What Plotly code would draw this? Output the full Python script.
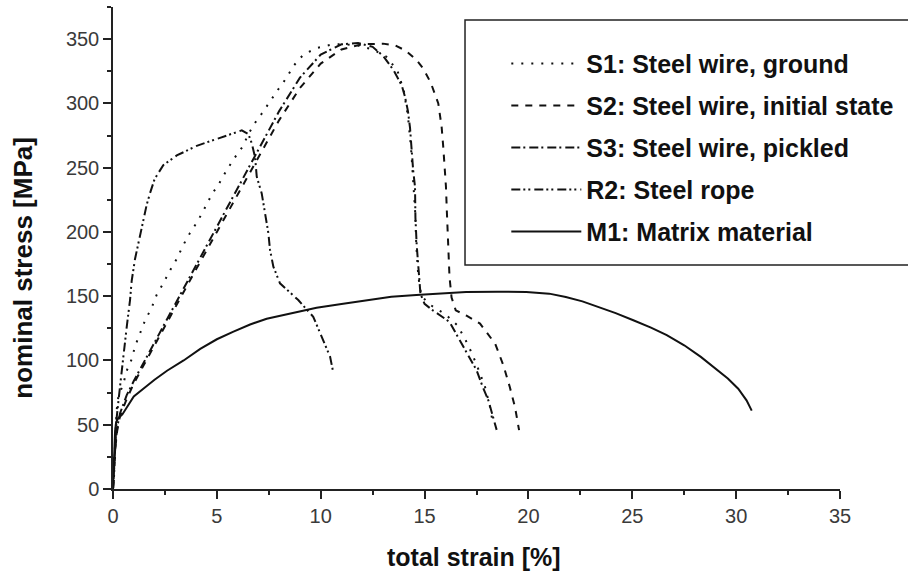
import plotly.graph_objects as go

# ---- data ----
S1_name = "S1: Steel wire, ground"
S1_x = [0, 0.05, 0.1, 0.18, 0.26, 0.5, 0.66, 0.9, 1.06, 1.3, 1.54, 1.86, 2.1, 2.42, 2.74, 3.07, 3.39, 3.7, 4.1,
        4.43, 4.75, 5.12, 5.47, 5.87, 6.27, 6.51, 6.92, 7.16, 7.56, 7.96, 8.36, 8.68, 9.17, 9.8, 10.6, 11.1,
        11.8, 12.5, 13.2, 13.7, 14.0, 14.2, 14.35, 14.45, 14.55, 14.6, 14.7, 14.85, 15.3, 16.0, 16.6, 17.1,
        17.5, 17.9, 18.15, 18.3]
S1_y = [0, 15, 35, 62, 72, 82, 92, 101, 111, 121, 131, 141, 151, 160, 170, 179, 190, 199, 209,
        219, 229, 238, 248, 258, 267, 276, 287, 292, 302, 311, 320, 329, 338, 343, 346, 346,
        345, 342, 336, 325, 310, 290, 265, 240, 215, 190, 165, 150, 143, 136, 127, 112,
        97, 80, 64, 50]

S2_name = "S2: Steel wire, initial state"
S2_x = [0, 0.05, 0.1, 0.2, 0.34, 0.66, 1.0, 1.5, 2.0, 3.0, 4.0, 5.0, 6.0, 7.0, 8.0, 9.0, 10.0, 11.0, 12.0,
        13.0, 13.6, 14.1, 14.6, 14.94, 15.3, 15.66, 15.82, 15.9, 15.98, 16.03, 16.07, 16.15, 16.2, 16.3,
        16.5, 17.0, 17.67, 18.4, 18.8, 19.1, 19.35, 19.55]
S2_y = [0, 15, 30, 45, 57, 70, 82, 97, 112, 141, 171, 200, 229, 258, 287, 312, 331, 342, 346,
        346.5, 345, 341, 334, 327, 316, 300, 282, 266, 250, 235, 217, 186, 165, 149,
        139, 135, 128.7, 113, 96, 79.5, 64, 45.8]

S3_name = "S3: Steel wire, pickled"
S3_x = [0, 0.05, 0.1, 0.2, 0.34, 0.66, 1.0, 2.0, 3.0, 4.0, 5.0, 6.0, 7.0, 8.0, 9.0, 10.0, 11.0, 11.8,
        12.5, 13.0, 13.5, 13.9, 14.06, 14.2, 14.3, 14.38, 14.45, 14.54, 14.56, 14.62, 14.72, 14.8, 15.0,
        15.4, 16.2, 16.7, 17.0, 17.5, 17.8, 18.07, 18.47]
S3_y = [0, 15, 30, 48, 59, 73, 84, 114, 144, 174, 204, 234, 264, 294, 320, 338, 346, 347,
        344, 337, 326, 314, 305, 294, 281, 261, 248, 235, 211, 190, 168, 152, 144,
        139, 130, 116, 107, 92.5, 79.5, 69, 46]

R2_name = "R2: Steel rope"
R2_x = [0, 0.05, 0.1, 0.18, 0.34, 0.5, 0.66, 0.82, 0.9, 1.06, 1.22, 1.38, 1.62, 1.78, 2.0, 2.42, 3.07,
        4.03, 5.0, 5.63, 6.2, 6.52, 6.68, 6.84, 6.92, 7.16, 7.3, 7.48, 7.56, 7.72, 8.04, 8.36, 8.92,
        9.64, 10.12, 10.45, 10.6]
R2_y = [0, 10, 30, 56, 80, 105, 126, 147, 162, 179, 191, 205, 221, 230, 241, 252, 259.5,
        267, 272.5, 276, 279, 276, 269, 258, 243, 230, 217, 199, 186, 173, 160, 155, 147,
        134, 116, 103, 91]

M1_name = "M1: Matrix material"
M1_x = [0, 0.03, 0.06, 0.1, 0.15, 0.25, 0.45, 0.7, 1.0, 1.46, 2.0, 2.6, 3.4, 4.2, 5.0, 5.8, 6.6, 7.4,
        8.2, 9.0, 9.8, 11.0, 12.2, 13.4, 14.6, 15.8, 17.0, 18.5, 19.9, 21.0, 21.8, 22.6, 23.4, 24.2,
        25.05, 25.9, 26.66, 27.5, 28.3, 29.0, 29.6, 30.1, 30.5, 30.75]
M1_y = [0, 15, 30, 45, 52, 55, 58, 64, 72, 78, 85, 92, 100, 109, 116.5, 122.5, 128, 132.5,
        135.5, 138.5, 141, 144, 147, 149.5, 151, 152.3, 153.2, 153.5, 153.3, 152, 149.4, 146, 141.6, 136.8,
        131.3, 125.6, 119.7, 111.8, 102.8, 94, 86, 78, 69, 61]

x_title = "total strain [%]"
y_title = "nominal stress [MPa]"

FONT = "Liberation Sans, Arial, sans-serif"
INK = "#111111"

series = [
    (S1_name, S1_x, S1_y, dict(dash="2px,8px", width=2)),
    (S2_name, S2_x, S2_y, dict(dash="7px,7px", width=2)),
    (S3_name, S3_x, S3_y, dict(dash="9px,3px,2px,4px", width=2)),
    (R2_name, R2_x, R2_y, dict(dash="9px,3px,2px,3px,2px,4px", width=2)),
    (M1_name, M1_x, M1_y, dict(dash="solid", width=2)),
]

fig = go.Figure()
for i, (name, xs, ys, ln) in enumerate(series):
    fig.add_trace(go.Scatter(
        x=xs, y=ys, mode="lines", name=name, legendgroup=f"g{i}",
        line=dict(color=INK, **ln), hoverinfo="skip",
    ))

axis_common = dict(
    showline=True, linecolor="#222222", linewidth=1.5,
    ticks="outside", ticklen=8, tickwidth=1.5, tickcolor="#222222",
    showgrid=False, zeroline=False,
    tickfont=dict(family=FONT, size=20, color="#3a3a3a"),
)

fig.update_xaxes(range=[0, 35], dtick=5, tick0=0,
                 minor=dict(ticks="outside", ticklen=4, dtick=2.5, tick0=0, tickcolor="#222222"),
                 **axis_common)
fig.update_yaxes(range=[0, 375], dtick=50, tick0=0,
                 minor=dict(ticks="outside", ticklen=4, dtick=25, tick0=0, tickcolor="#222222"),
                 **axis_common)

fig.update_layout(
    width=908, height=574,
    margin=dict(l=113, r=68, t=7, b=85, autoexpand=False),
    paper_bgcolor="white", plot_bgcolor="white",
    showlegend=True,
    legend=dict(
        x=0.541, y=0.930, xanchor="left", yanchor="top",
        bgcolor="rgba(0,0,0,0)", borderwidth=0,
        font=dict(family=FONT, size=25, color=INK, weight="bold"),
        itemwidth=70, tracegroupgap=6.5,
    ),
    shapes=[dict(type="rect", xref="paper", yref="paper",
                 x0=0.4842, x1=1.2, y0=0.4647, y1=0.973,
                 line=dict(color="#222222", width=1.5), fillcolor="white", layer="above")],
    annotations=[
        dict(text=f"<b>{x_title}</b>", xref="paper", yref="paper", x=0.497, y=-0.141,
             xanchor="center", yanchor="middle", showarrow=False,
             font=dict(family=FONT, size=25, color=INK)),
        dict(text=f"<b>{y_title}</b>", xref="paper", yref="paper", x=-0.125, y=0.4595,
             xanchor="center", yanchor="middle", showarrow=False, textangle=-90,
             font=dict(family=FONT, size=26, color=INK)),
    ],
)

fig.write_html("out.html")
